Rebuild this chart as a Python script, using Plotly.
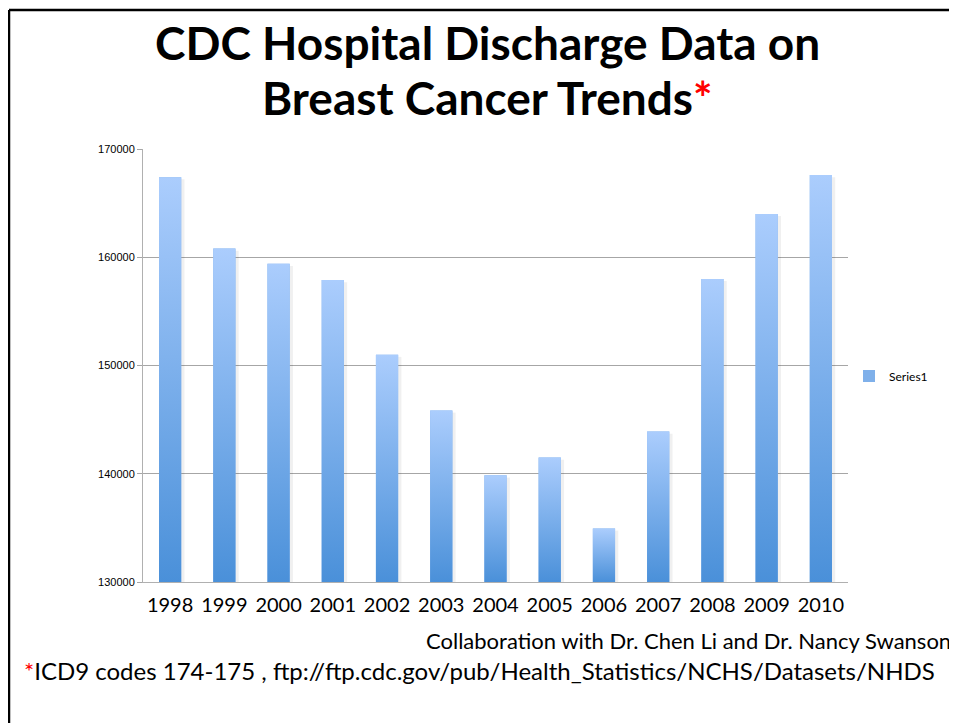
import plotly.graph_objects as go

years = [1998, 1999, 2000, 2001, 2002, 2003, 2004, 2005, 2006, 2007, 2008, 2009, 2010]
discharges = [167400, 160800, 159400, 157900, 151000, 145850, 139850, 141500, 134950, 143900, 158000, 164000, 167600]
y_ticks = [130000, 140000, 150000, 160000, 170000]
series_name = "Series1"

OFF = 8  # page body margin
W, H = 949, 715
L, R, T, B = 135, 109, 141, 141
pw, ph = W - L - R, H - T - B

def px(xs):
    return (xs - OFF - L) / pw

def py(ys):
    return (H - B - (ys - OFF)) / ph

half = 0.205
base = y_ticks[0]
dark, light = "#4a90d9", "#abcdfd"

fig = go.Figure()
# the data bars (legend entry); gradient overlay drawn on top with the same geometry
fig.add_trace(go.Bar(x=years, y=discharges, width=2 * half, name=series_name,
                     marker=dict(color="#7fb0ea", line=dict(width=0)), showlegend=True))
for yr, v in zip(years, discharges):
    fig.add_trace(go.Scatter(
        x=[yr + half, yr + half + 0.06, yr + half + 0.06, yr + half],
        y=[base, base, v - 200, v - 200],
        fill="toself", mode="lines", line=dict(width=0),
        fillcolor="rgba(0,0,0,0.06)", showlegend=False, hoverinfo="skip"))
    fig.add_trace(go.Scatter(
        x=[yr - half, yr - half, yr + half, yr + half, yr - half],
        y=[base, v, v, base, base],
        fill="toself", mode="lines", line=dict(width=0),
        fillgradient=dict(type="vertical", colorscale=[[0, dark], [1, light]]),
        showlegend=False, hoverinfo="skip"))

fig.update_layout(
    width=W, height=H,
    margin=dict(l=L, r=R, t=T, b=B),
    paper_bgcolor="white", plot_bgcolor="white",
    showlegend=True,
    legend=dict(x=px(849), y=py(376), xanchor="left", yanchor="middle",
                font=dict(family="Lato", size=12, color="black"),
                itemwidth=30, bgcolor="rgba(0,0,0,0)"),
    xaxis=dict(range=[years[0] - 0.5, years[-1] + 0.5], tickvals=years,
               ticktext=[str(y) for y in years], showgrid=False, zeroline=False,
               showline=True, linecolor="#b0b0b0", linewidth=1, ticks="",
               tickfont=dict(family="Lato", size=20, color="black"), ticklabelstandoff=5),
    yaxis=dict(range=[y_ticks[0], y_ticks[-1]], tickvals=y_ticks, tickformat="d",
               showgrid=True, gridcolor="#a6a6a6", gridwidth=1, zeroline=False,
               showline=True, linecolor="#b0b0b0", linewidth=1,
               ticks="outside", ticklen=5, tickcolor="#a6a6a6",
               tickfont=dict(family="Liberation Sans", size=11, color="black")),
    font=dict(family="Lato"),
)

# slide frame
fig.add_shape(type="line", xref="paper", yref="paper", x0=px(9), x1=px(960), y0=py(10), y1=py(10),
              line=dict(color="black", width=2.5))
fig.add_shape(type="line", xref="paper", yref="paper", x0=px(9), x1=px(9), y0=py(10), y1=py(730),
              line=dict(color="black", width=2.5))

fig.add_annotation(text="<b>CDC Hospital Discharge Data on</b>", xref="paper", yref="paper",
                   x=px(487), y=py(42), xanchor="center", yanchor="middle", showarrow=False,
                   borderpad=0, font=dict(family="Lato", size=46, color="black"))
fig.add_annotation(text="<b>Breast Cancer Trends<span style='color:#ff0000'>*</span></b>", xref="paper", yref="paper",
                   x=px(487), y=py(97.5), xanchor="center", yanchor="middle", showarrow=False,
                   borderpad=0, font=dict(family="Lato", size=46, color="black"))
fig.add_annotation(text="Collaboration with Dr. Chen Li and Dr. Nancy Swanson", xref="paper", yref="paper",
                   x=px(952), y=py(640), xanchor="right", yanchor="middle", showarrow=False,
                   borderpad=0, font=dict(family="Lato", size=22, color="black"))
fig.add_annotation(text="<span style='color:#ff0000'>*</span>ICD9 codes 174-175 , ftp://ftp.cdc.gov/pub/Health_Statistics/NCHS/Datasets/NHDS",
                   xref="paper", yref="paper",
                   x=px(23), y=py(670), xanchor="left", yanchor="middle", showarrow=False,
                   borderpad=0, font=dict(family="Lato", size=24, color="black"))

fig.write_html("out.html")
